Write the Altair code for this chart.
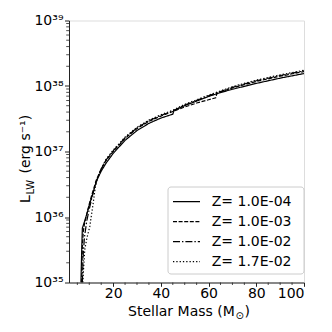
import altair as alt
import pandas as pd
import math

FONT = "DejaVu Sans"

labels = ["Z= 1.0E-04", "Z= 1.0E-03", "Z= 1.0E-02", "Z= 1.7E-02"]
dashes = [[1, 0], [4, 1.6], [7, 2, 1.4, 2], [1.3, 2]]

m1 = [6.5, 6.9, 7.1, 8, 9, 10, 11, 12, 13, 15, 17, 20, 25, 30, 35, 40, 45, 45.6, 50, 55, 60, 65, 70, 80, 90, 100]
L1 = [35.0, 35.6, 35.83, 35.93, 36.05, 36.18, 36.3, 36.42, 36.55, 36.7, 36.82, 36.97, 37.17, 37.32, 37.43, 37.51, 37.57, 37.63, 37.7, 37.77, 37.84, 37.9, 37.95, 38.04, 38.12, 38.19]

m2 = [6.8, 7.1, 7.5, 8, 9, 10, 11, 12, 13, 15, 17, 20, 25, 30, 35, 40, 45, 50, 55, 60, 63, 63.5, 70, 80, 90, 100]
L2 = [35.0, 35.55, 35.78, 35.9, 36.05, 36.2, 36.33, 36.45, 36.57, 36.73, 36.86, 37.0, 37.2, 37.35, 37.46, 37.54, 37.61, 37.68, 37.74, 37.79, 37.82, 37.89, 37.97, 38.07, 38.15, 38.22]

m3 = [7.1, 7.5, 8, 9, 10, 11, 12, 13, 15, 17, 20, 25, 30, 35, 40, 45, 50, 55, 60, 70, 80, 90, 100]
L3 = [35.0, 35.45, 35.7, 35.95, 36.12, 36.28, 36.42, 36.55, 36.73, 36.87, 37.01, 37.21, 37.36, 37.47, 37.55, 37.62, 37.71, 37.78, 37.85, 37.98, 38.08, 38.16, 38.23]

m4 = [7.3, 7.6, 8.1, 9, 10.2, 11.6, 12.5, 13.5, 15, 17, 20, 25, 30, 35, 40, 45, 50, 55, 60, 70, 80, 90, 100]
L4 = [35.0, 35.2, 35.5, 35.68, 35.85, 36.2, 36.45, 36.6, 36.74, 36.88, 37.02, 37.22, 37.37, 37.48, 37.56, 37.63, 37.72, 37.79, 37.86, 37.99, 38.09, 38.17, 38.24]

y_ticks = [1e35, 1e36, 1e37, 1e38, 1e39]
y_tick_labels = ["10³⁵", "10³⁶", "10³⁷", "10³⁸", "10³⁹"]
x_ticks = [20, 40, 60, 80, 100]
x_minor = [5, 10, 15, 25, 30, 35, 45, 50, 55, 65, 70, 75, 85, 90, 95]
y_minor = [k * 10 ** e for e in range(35, 39) for k in range(2, 10)]

rows = []
for lab, ms, Ls in zip(labels, [m1, m2, m3, m4], [L1, L2, L3, L4]):
    for i, (m, L) in enumerate(zip(ms, Ls)):
        rows.append({"Z": lab, "mass": m, "lum": 10 ** L, "order": i})
df = pd.DataFrame(rows)

W, H = 235, 262
xscale = alt.Scale(domain=[1.5, 100], nice=False, zero=False)
yscale = alt.Scale(type="log", domain=[1e35, 1e39], nice=False)

label_expr = ""
for v, t in zip(y_ticks, y_tick_labels):
    label_expr += f"abs(log(datum.value)/LN10 - {round(math.log10(v))}) < 0.01 ? '{t}' : "
label_expr += "''"

xaxis = alt.Axis(values=x_ticks, title=None, grid=False, tickSize=3.8,
                 labelFontSize=14, labelFont=FONT, labelColor="black",
                 labelPadding=0.5, domainColor="#222", tickColor="#222")
yaxis = alt.Axis(values=y_ticks, labelExpr=label_expr, title=None, grid=False,
                 tickSize=4.5, labelFontSize=14, labelFont=FONT, labelColor="black",
                 labelPadding=1.5, domainColor="#222", tickColor="#222")

lines = alt.Chart(df).mark_line(strokeWidth=1.2, color="black", clip=True).encode(
    x=alt.X("mass:Q", scale=xscale, axis=xaxis),
    y=alt.Y("lum:Q", scale=yscale, axis=yaxis),
    strokeDash=alt.StrokeDash("Z:N", scale=alt.Scale(domain=labels, range=dashes), legend=None),
    order="order:Q",
)

ymin_df = pd.DataFrame({"v": y_minor})
ymin = alt.Chart(ymin_df).mark_rule(color="#222", strokeWidth=0.8).encode(
    y=alt.Y("v:Q", scale=yscale, axis=yaxis),
    x=alt.value(0), x2=alt.value(-2.8),
)
xmin_df = pd.DataFrame({"v": x_minor})
xmin = alt.Chart(xmin_df).mark_rule(color="#222", strokeWidth=0.8).encode(
    x=alt.X("v:Q", scale=xscale, axis=xaxis),
    y=alt.value(H), y2=alt.value(H + 2.5),
)

one = pd.DataFrame({"a": [0]})
layers = [lines, ymin, xmin]

# legend
layers.append(alt.Chart(one).mark_rect(fill="white", fillOpacity=0.85, stroke="#cccccc",
                                       strokeWidth=1, cornerRadius=3).encode(
    x=alt.value(99), x2=alt.value(235), y=alt.value(166.5), y2=alt.value(253.5)))
for i, (lab, d) in enumerate(zip(labels, dashes)):
    yy = 181.2 + 20 * i
    layers.append(alt.Chart(one).mark_rule(color="black", strokeWidth=1.2, strokeDash=d).encode(
        x=alt.value(104), x2=alt.value(131), y=alt.value(yy)))
    layers.append(alt.Chart(one).mark_text(align="left", baseline="middle", fontSize=14,
                                           font=FONT, color="black").encode(
        x=alt.value(142.7), y=alt.value(yy), text=alt.value(lab)))

# axis titles
def txt(s, x, y, size, angle=0):
    kw = dict(align="left", baseline="alphabetic", fontSize=size, font=FONT, color="black")
    if angle:
        kw["angle"] = angle
    return alt.Chart(one).mark_text(**kw).encode(x=alt.value(x), y=alt.value(y), text=alt.value(s))

layers += [
    txt("L", -39, 182.5, 14, 270),
    txt("LW", -35.5, 174, 10, 270),
    txt("(erg s⁻¹)", -39, 153, 14, 270),
    txt("Stellar Mass (M", 59, 295, 14),
    txt("⊙", 166.5, 298, 10),
    txt(")", 175.5, 295, 14),
]

chart = alt.layer(*layers).properties(
    width=W, height=H,
    autosize=alt.AutoSizeParams(type="none"),
    padding={"left": 61, "top": 12.5, "right": 20, "bottom": 41.5},
).configure_view(stroke="#222", strokeWidth=1).configure(background="white")

chart.save("out.html", embed_options={"renderer": "svg", "actions": False})
